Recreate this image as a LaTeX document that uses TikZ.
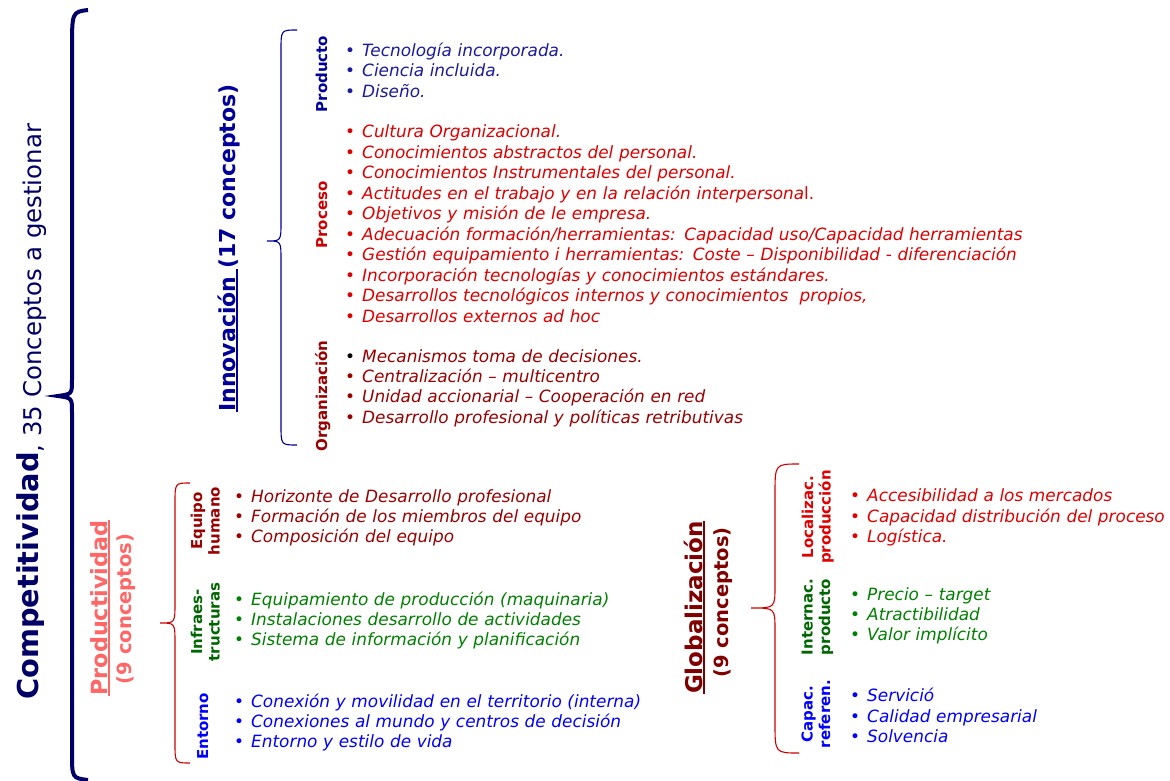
\documentclass[tikz,border=0pt]{standalone}
\usepackage{fontspec}
\setmainfont{DejaVu Sans}
\usepackage{tikz}

\definecolor{navy}{HTML}{000066}
\definecolor{innovblue}{HTML}{000099}
\definecolor{prodblue}{HTML}{1A1A9C}
\definecolor{procred}{HTML}{CC0000}
\definecolor{procitem}{HTML}{DD0000}
\definecolor{orgred}{HTML}{990000}
\definecolor{salmon}{HTML}{FF6666}
\definecolor{bracered}{HTML}{CC0000}
\definecolor{darkgreen}{HTML}{006600}
\definecolor{itemgreen}{HTML}{008000}
\definecolor{entblue}{HTML}{0000FF}
\definecolor{globred}{HTML}{800000}
\definecolor{locred}{HTML}{E00000}

% bullet item, text italic
\newcommand{\itm}[2][.]{\makebox[17pt][l]{\color{#1}\textup{\textbullet}}#2}
% underline with given thickness
\newcommand{\ulin}[2][1.8pt]{\setbox0\hbox{#2}\rlap{\rule[-2.6pt]{\wd0}{#1}}\box0}

\begin{document}
\begin{tikzpicture}[x=1pt,y=-1pt,
    lbl/.style={rotate=90,anchor=base,inner sep=0pt,text width=130pt,align=center,
      font=\bfseries\fontsize{15}{17.5}\selectfont},
    items/.style={anchor=base west,inner sep=0pt,text width=720pt,align=left,
      font=\itshape\fontsize{16.9}{20.45}\selectfont},
    ttl/.style={rotate=90,anchor=base,inner sep=0pt,font=\bfseries\fontsize{22.3}{22}\selectfont},
    cnt/.style={rotate=90,anchor=base,inner sep=0pt,font=\bfseries\fontsize{19.5}{19.5}\selectfont},
    brc/.style={line width=1.1pt}]
    \useasboundingbox (0,0) rectangle (1170,781);

    % Competitividad
    \draw[navy,line width=4pt] (88,10) .. controls (72,12) .. (72,50) -- (72,380)
    .. controls (72,394) .. (58,396) .. controls (72,398) .. (72,412) -- (72,752)
    .. controls (72,778) .. (88,780);
    \node[rotate=90,anchor=base west,inner sep=0pt,text=navy] (comp) at (38,700)
    {{\bfseries\fontsize{28.8}{29}\selectfont Competitividad}\raisebox{-3pt}{\fontsize{24.4}{25}\selectfont, 35 Conceptos a gestionar}};

    % Innovacion
    \draw[innovblue,brc] (297,30) .. controls (281,30) .. (281,50) -- (281,222)
    .. controls (281,241) .. (267,241) .. controls (281,241) .. (281,260) -- (281,425)
    .. controls (281,445) .. (297,445);
    \node[ttl,text=innovblue,font=\bfseries\fontsize{22}{22}\selectfont] (innov) at (235,248)
    {\ulin{Innovación\ }(17 conceptos)};

    \node[lbl,text=innovblue] (producto) at (327,74) {Producto};
    \node[lbl,text=procred] (proceso) at (327,215) {Proceso};
    \node[lbl,text=orgred] (organiz) at (327,396) {Organización};

    \node[items,text=prodblue] (prodit) at (345,56.5)
    {\itm{Tecnología incorporada.}\\\itm{Ciencia incluida.}\\\itm{Diseño.}};
    \node[items,text=procitem] (procit) at (345,138)
    {\itm{Cultura Organizacional.}\\
     \itm{Conocimientos abstractos del personal.}\\
     \itm{Conocimientos Instrumentales del personal.}\\
     \itm{Actitudes en el trabajo y en la relación interpersona\textup{l.}}\\
     \itm{Objetivos y misión de le empresa.}\\
     \itm{Adecuación formación/herramientas: Capacidad uso/Capacidad herramientas}\\
     \itm{Gestión equipamiento i herramientas: Coste – Disponibilidad - diferenciación}\\
     \itm{Incorporación tecnologías y conocimientos estándares.}\\
     \itm{Desarrollos tecnológicos internos y conocimientos\ \ propios,}\\
     \itm{Desarrollos externos ad hoc}};
    \node[items,text=orgred] (orgit) at (345,362)
    {\itm[black]{Mecanismos toma de decisiones.}\\
     \itm{Centralización – multicentro}\\
     \itm{Unidad accionarial – Cooperación en red}\\
     \itm{Desarrollo profesional y políticas retributivas}};

    % Productividad
    \draw[bracered,brc] (190,483) .. controls (175,483) .. (175,503) -- (175,603)
    .. controls (175,623) .. (160,623) .. controls (175,623) .. (175,643) -- (175,743)
    .. controls (175,763) .. (190,763);
    \node[ttl,text=salmon] (prodv) at (107,608) {\ulin[1.2pt]{Productividad}};
    \node[cnt,text=salmon] (prodvn) at (131.5,609) {(9 conceptos)};

    \node[lbl,text=orgred] (equipo) at (202,521) {Equipo\\humano};
    \node[lbl,text=darkgreen] (infra) at (202,622) {Infraes-\\tructuras};
    \node[lbl,text=entblue] (entorno) at (208,726.5) {Entorno};

    \node[items,text=orgred] (equit) at (234,502)
    {\itm{Horizonte de Desarrollo profesional}\\
     \itm{Formación de los miembros del equipo}\\
     \itm{Composición del equipo}};
    \node[items,text=itemgreen] (infit) at (234,605)
    {\itm{Equipamiento de producción (maquinaria)}\\
     \itm{Instalaciones desarrollo de actividades}\\
     \itm{Sistema de información y planificación}};
    \node[items,text=entblue] (entit) at (234,707)
    {\itm{Conexión y movilidad en el territorio (interna)}\\
     \itm{Conexiones al mundo y centros de decisión}\\
     \itm{Entorno y estilo de vida}};

    % Globalizacion
    \draw[bracered,brc] (799,464) .. controls (775,464) .. (775,494) -- (775,586)
    .. controls (775,608) .. (751,608) .. controls (775,608) .. (775,630) -- (775,723)
    .. controls (775,753) .. (799,753);
    \node[ttl,text=globred,font=\bfseries\fontsize{23}{23}\selectfont] (glob) at (702,607.5)
    {\ulin{Globalización}};
    \node[cnt,text=globred] (globn) at (728,602.5) {(9 conceptos)};

    \node[lbl,text=locred] (localiz) at (813,517) {Localizac.\\producción};
    \node[lbl,text=darkgreen] (internac) at (812.5,617) {Internac.\\producto};
    \node[lbl,text=entblue] (capac) at (812.5,714) {Capac.\\referen.};

    \node[items,text=locred] (locit) at (850,501.7)
    {\itm{Accesibilidad a los mercados}\\
     \itm{Capacidad distribución del proceso}\\
     \itm{Logística.}};
    \node[items,text=itemgreen] (intit) at (850,600)
    {\itm{Precio – target}\\
     \itm{Atractibilidad}\\
     \itm{Valor implícito}};
    \node[items,text=entblue] (capit) at (850,701.7)
    {\itm{Servició}\\
     \itm{Calidad empresarial}\\
     \itm{Solvencia}};

\end{tikzpicture}
\end{document}
